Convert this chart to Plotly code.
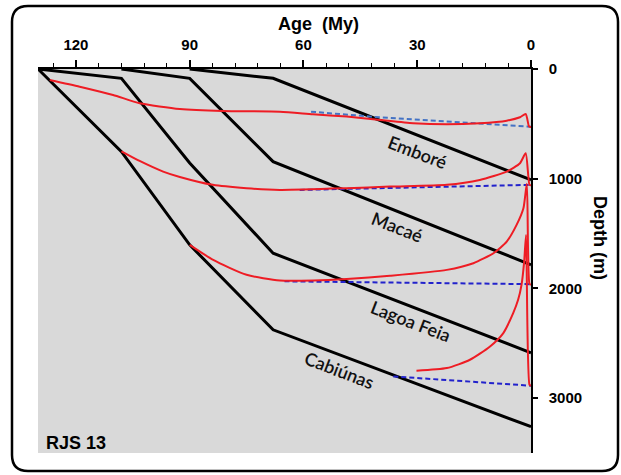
import plotly.graph_objects as go

# ---------------- data (age in My, depth in m) ----------------
# burial curves (black)
cabiunas_age = [130, 108, 90, 68, 0]
cabiunas_depth = [0, 753, 1603, 2377, 3260]
lagoa_age = [130, 108, 90, 68, 0]
lagoa_depth = [0, 85, 856, 1679, 2587]
macae_age = [108, 90, 68, 0]
macae_depth = [0, 85, 844, 1785]
embore_age = [90, 68, 0]
embore_depth = [0, 85, 1011]

# red curves
red1_age = [126.9, 119.0, 110.2, 103.2, 92.6, 81.3, 66.2, 57.5, 48.6, 39.8, 31.1, 22.2, 13.5, 6.4, 2.9, 1.4, 0.5, 0.0]
red1_depth = [100, 161, 237, 312, 364, 383, 389, 413, 434, 464, 494, 504, 494, 471, 440, 410, 525, 528]
red2_age = [108.0, 103.2, 97.0, 92.6, 83.9, 75.0, 66.2, 48.6, 37.2, 22.2, 13.5, 6.4, 2.9, 1.4, 0.4, 0.0]
red2_depth = [750, 838, 935, 984, 1056, 1087, 1102, 1087, 1072, 1056, 1011, 935, 859, 768, 1056, 1060]
red3_age = [90.0, 83.8, 75.0, 66.2, 57.4, 48.6, 37.2, 22.2, 15.2, 9.9, 6.4, 3.8, 2.0, 1.1, 0.4, 0.0]
red3_depth = [1603, 1740, 1876, 1928, 1928, 1915, 1885, 1831, 1770, 1679, 1573, 1421, 1269, 1047, 1958, 1967]
red4_age = [30.2, 22.2, 16.1, 10.8, 7.3, 4.7, 3.4, 2.5, 1.8, 1.3, 0.4, 0.0]
red4_depth = [2750, 2726, 2650, 2529, 2407, 2225, 2104, 1967, 1755, 1512, 2878, 2887]

# blue dashed lines
blue1_age = [58, 40, 0]
blue1_depth = [389, 440, 526]
blue2_age = [61, 0]
blue2_depth = [1102, 1056]
blue3_age = [65, 0]
blue3_depth = [1935, 1961]
blue4_age = [36.3, 0]
blue4_depth = [2802, 2887]

# labels
label_text = ["Emboré", "Macaé", "Lagoa Feia", "Cabiúnas"]
label_age = [29.9, 35.1, 31.7, 50.5]
label_depth = [753, 1436, 2295, 2746]

x_ticks = [120, 90, 60, 30, 0]
y_ticks = [0, 1000, 2000, 3000]

# ---------------- figure ----------------
W, H = 621, 475
ML, MR, MT, MB = 38, 90, 69, 22
PW, PH = W - ML - MR, H - MT - MB

fig = go.Figure()

BLACK = "#000000"
RED = "#ee1c24"

for a, d in [(cabiunas_age, cabiunas_depth), (lagoa_age, lagoa_depth),
             (macae_age, macae_depth), (embore_age, embore_depth)]:
    fig.add_trace(go.Scatter(x=a, y=d, mode="lines",
                             line=dict(color=BLACK, width=3), hoverinfo="skip"))

for a, d, c in [(blue1_age, blue1_depth, "#4472c4"), (blue2_age, blue2_depth, "#2222cc"),
                (blue3_age, blue3_depth, "#2222cc"), (blue4_age, blue4_depth, "#2222cc")]:
    fig.add_trace(go.Scatter(x=a, y=d, mode="lines",
                             line=dict(color=c, width=2, dash="5px,3px"), hoverinfo="skip"))

for a, d in [(red1_age, red1_depth), (red2_age, red2_depth),
             (red3_age, red3_depth), (red4_age, red4_depth)]:
    fig.add_trace(go.Scatter(x=a, y=d, mode="lines",
                             line=dict(color=RED, width=2, shape="spline", smoothing=0.6),
                             hoverinfo="skip"))

for t, a, d in zip(label_text, label_age, label_depth):
    fig.add_annotation(x=a, y=d, text=t, showarrow=False, textangle=21,
                       font=dict(family="Lato, Open Sans, sans-serif", size=18, color="#111111",
                                 weight=600),
                       xanchor="center", yanchor="middle")

def px_x(px):
    return (px - ML) / PW

def px_y(py):
    return (H - MB - py) / PH

# titles / labels
fig.add_annotation(x=px_x(318), y=px_y(24), xref="paper", yref="paper", text="Age  (My)",
                   showarrow=False, xanchor="center", yanchor="middle",
                   font=dict(family="Liberation Sans, Arial", size=18, color="black", weight="bold"))
fig.add_annotation(x=px_x(600), y=px_y(238), xref="paper", yref="paper", text="Depth (m)",
                   showarrow=False, xanchor="center", yanchor="middle", textangle=90,
                   font=dict(family="Liberation Sans, Arial", size=18, color="black", weight="bold"))
fig.add_annotation(x=px_x(44), y=px_y(443), xref="paper", yref="paper", text="RJS 13",
                   showarrow=False, xanchor="left", yanchor="middle",
                   font=dict(family="Liberation Sans, Arial", size=18, color="black", weight="bold"))

# rounded border
L, R, T, B, r = 12, 618, 6, 471, 16
path = (f"M {px_x(L + r)},{px_y(T)} L {px_x(R - r)},{px_y(T)} "
        f"Q {px_x(R)},{px_y(T)} {px_x(R)},{px_y(T + r)} "
        f"L {px_x(R)},{px_y(B - r)} Q {px_x(R)},{px_y(B)} {px_x(R - r)},{px_y(B)} "
        f"L {px_x(L + r)},{px_y(B)} Q {px_x(L)},{px_y(B)} {px_x(L)},{px_y(B - r)} "
        f"L {px_x(L)},{px_y(T + r)} Q {px_x(L)},{px_y(T)} {px_x(L + r)},{px_y(T)} Z")
fig.add_shape(type="path", path=path, xref="paper", yref="paper",
              line=dict(color="black", width=2.5), layer="above")

tickfont = dict(family="Liberation Sans, Arial", size=15, color="black", weight="bold")

fig.update_layout(
    width=W, height=H,
    margin=dict(l=ML, r=MR, t=MT, b=MB, pad=0),
    paper_bgcolor="white",
    plot_bgcolor="#d9d9d9",
    showlegend=False,
    xaxis=dict(range=[130, 0], side="top", tickvals=x_ticks, ticks="outside", ticklen=7,
               tickwidth=1.5, tickcolor="black", showline=True, linecolor="black", linewidth=2,
               showgrid=False, zeroline=False, tickfont=tickfont, ticklabelstandoff=4,
               minor=dict(dtick=6, tick0=0, ticks="outside", ticklen=4, tickcolor="black",
                          tickwidth=1, showgrid=False)),
    yaxis=dict(range=[3500, 0], side="right", tickvals=y_ticks, ticks="outside", ticklen=5,
               tickwidth=1.5, tickcolor="black", showline=True, linecolor="black", linewidth=1.5,
               showgrid=False, zeroline=False, tickfont=tickfont, ticklabelstandoff=8),
)

fig.write_html("out.html")
